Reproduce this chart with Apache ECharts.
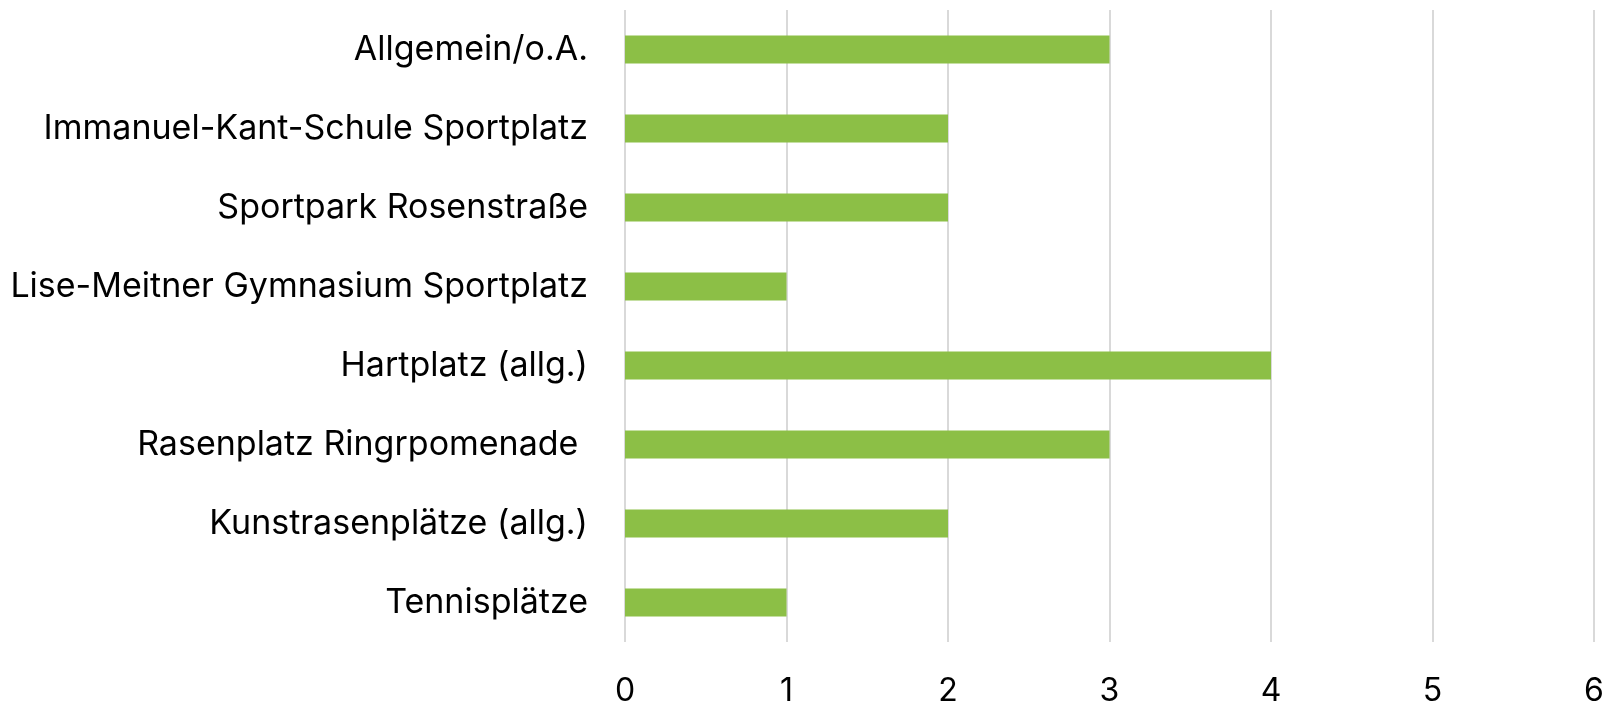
<!DOCTYPE html>
<html>
<head>
<meta charset="utf-8">
<style>
  html, body { margin: 0; padding: 0; background: #fff; }
  #chart { width: 1612px; height: 707px; }
</style>
<script src="https://cdn.jsdelivr.net/npm/echarts@6/dist/echarts.min.js"></script>
</head>
<body>
<div id="chart"></div>
<script>
const categories = [
  'Allgemein/o.A.',
  'Immanuel-Kant-Schule Sportplatz',
  'Sportpark Rosenstraße',
  'Lise-Meitner Gymnasium Sportplatz',
  'Hartplatz (allg.)',
  'Rasenplatz Ringrpomenade ',
  'Kunstrasenplätze (allg.)',
  'Tennisplätze'
]
const counts = [3, 2, 2, 1, 4, 3, 2, 1]

const chart = echarts.init(document.getElementById('chart'))
chart.setOption({
  animation: false,
  grid: {
    left: 625,
    right: 18,
    top: 10,
    bottom: 64,
    containLabel: false
  },
  xAxis: {
    type: 'value',
    min: 0,
    max: 6,
    interval: 1,
    axisLine: { show: false },
    axisTick: { show: false },
    axisLabel: {
      color: '#000',
      fontFamily: 'Inter',
      fontSize: 32,
      margin: 33
    },
    splitLine: { lineStyle: { color: '#d9d9d9', width: 2 } }
  },
  yAxis: {
    type: 'category',
    data: categories,
    inverse: true,
    axisLine: { show: false },
    axisTick: { show: false },
    axisLabel: {
      color: '#000',
      fontFamily: 'Inter',
      fontSize: 34,
      margin: 37
    }
  },
  series: [{
    type: 'bar',
    data: counts,
    barWidth: 28,
    itemStyle: { color: '#8cbf46' }
  }]
})
</script>
</body>
</html>
